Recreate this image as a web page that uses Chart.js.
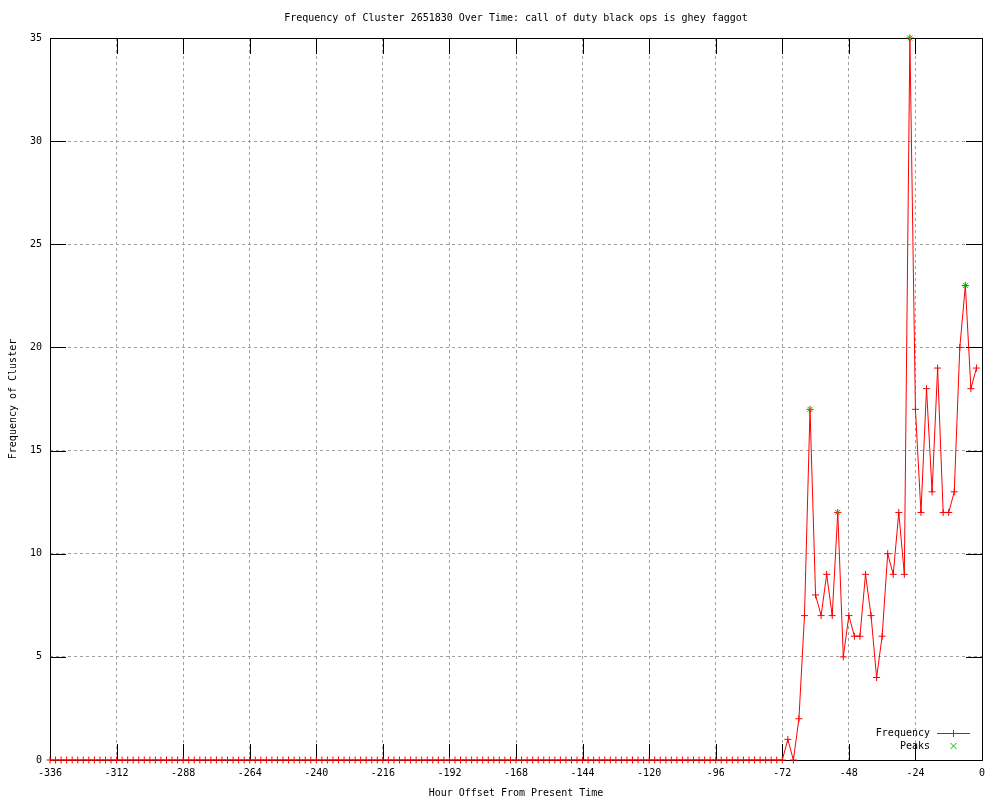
<!DOCTYPE html>
<html>
<head>
<meta charset="utf-8">
<script src="https://cdn.jsdelivr.net/npm/chart.js@4.4.0/dist/chart.umd.min.js"></script>
<style>
  html, body { margin: 0; padding: 0; background: #fff; }
  canvas { display: block; }
</style>
</head>
<body>
<canvas id="grafico" width="1000" height="800" style="width:1000px;height:800px"></canvas>
<script>
// ore (offset dal presente), un punto ogni 2 ore
const ore = [
  -336, -334, -332, -330, -328, -326, -324, -322, -320, -318, -316, -314,
  -312, -310, -308, -306, -304, -302, -300, -298, -296, -294, -292, -290,
  -288, -286, -284, -282, -280, -278, -276, -274, -272, -270, -268, -266,
  -264, -262, -260, -258, -256, -254, -252, -250, -248, -246, -244, -242,
  -240, -238, -236, -234, -232, -230, -228, -226, -224, -222, -220, -218,
  -216, -214, -212, -210, -208, -206, -204, -202, -200, -198, -196, -194,
  -192, -190, -188, -186, -184, -182, -180, -178, -176, -174, -172, -170,
  -168, -166, -164, -162, -160, -158, -156, -154, -152, -150, -148, -146,
  -144, -142, -140, -138, -136, -134, -132, -130, -128, -126, -124, -122,
  -120, -118, -116, -114, -112, -110, -108, -106, -104, -102, -100, -98,
  -96, -94, -92, -90, -88, -86, -84, -82, -80, -78, -76, -74,
  -72, -70, -68, -66, -64, -62, -60, -58, -56, -54, -52, -50,
  -48, -46, -44, -42, -40, -38, -36, -34, -32, -30, -28, -26,
  -24, -22, -20, -18, -16, -14, -12, -10, -8, -6, -4, -2
];
const frequenza = [
  0, 0, 0, 0, 0, 0, 0, 0, 0, 0, 0, 0,
  0, 0, 0, 0, 0, 0, 0, 0, 0, 0, 0, 0,
  0, 0, 0, 0, 0, 0, 0, 0, 0, 0, 0, 0,
  0, 0, 0, 0, 0, 0, 0, 0, 0, 0, 0, 0,
  0, 0, 0, 0, 0, 0, 0, 0, 0, 0, 0, 0,
  0, 0, 0, 0, 0, 0, 0, 0, 0, 0, 0, 0,
  0, 0, 0, 0, 0, 0, 0, 0, 0, 0, 0, 0,
  0, 0, 0, 0, 0, 0, 0, 0, 0, 0, 0, 0,
  0, 0, 0, 0, 0, 0, 0, 0, 0, 0, 0, 0,
  0, 0, 0, 0, 0, 0, 0, 0, 0, 0, 0, 0,
  0, 0, 0, 0, 0, 0, 0, 0, 0, 0, 0, 0,
  0, 1, 0, 2, 7, 17, 8, 7, 9, 7, 12, 5,
  7, 6, 6, 9, 7, 4, 6, 10, 9, 12, 9, 35,
  17, 12, 18, 13, 19, 12, 12, 13, 20, 23, 18, 19
];
// picchi
const orePicchi = [-62, -52, -26, -6];
const valoriPicchi = [17, 12, 35, 23];

// tick degli assi
const tickX = [-336, -312, -288, -264, -240, -216, -192, -168, -144, -120, -96, -72, -48, -24, 0];
const tickY = [0, 5, 10, 15, 20, 25, 30, 35];

const TITOLO = "Frequency of Cluster 2651830 Over Time: call of duty black ops is ghey faggot";
const TITOLO_X = "Hour Offset From Present Time";
const TITOLO_Y = "Frequency of Cluster";
const FONT = "'DejaVu Sans Mono', monospace";
const ROSSO = '#ff0000';
const VERDE = '#00c000';
const TIC = 16;

Chart.defaults.font.family = FONT;
Chart.defaults.font.size = 10;
Chart.defaults.color = '#000';

// stile gnuplot: sfondo, bordo, tacche, titoli, legenda
const stileGnuplot = {
  id: 'stileGnuplot',
  beforeDraw(chart) {
    const ctx = chart.ctx;
    ctx.save();
    ctx.fillStyle = '#fff';
    ctx.fillRect(0, 0, chart.width, chart.height);
    ctx.restore();
  },
  beforeDatasetsDraw(chart) {
    const ctx = chart.ctx;
    const a = chart.chartArea;
    const sx = chart.scales.x, sy = chart.scales.y;
    ctx.save();
    ctx.strokeStyle = '#000';
    ctx.lineWidth = 1;
    ctx.beginPath();
    tickX.forEach(v => {
      const px = Math.round(sx.getPixelForValue(v)) + 0.5;
      ctx.moveTo(px, a.bottom); ctx.lineTo(px, a.bottom - TIC);
      ctx.moveTo(px, a.top); ctx.lineTo(px, a.top + TIC);
    });
    tickY.forEach(v => {
      const py = Math.round(sy.getPixelForValue(v)) + 0.5;
      ctx.moveTo(a.left, py); ctx.lineTo(a.left + TIC, py);
      ctx.moveTo(a.right, py); ctx.lineTo(a.right - TIC, py);
    });
    ctx.stroke();
    ctx.strokeRect(Math.round(a.left) + 0.5, Math.round(a.top) + 0.5,
      Math.round(a.right - a.left), Math.round(a.bottom - a.top));
    ctx.restore();
  },
  afterDraw(chart) {
    const ctx = chart.ctx;
    const a = chart.chartArea;
    const cx = (a.left + a.right) / 2;
    ctx.save();
    ctx.fillStyle = '#000';
    ctx.font = '10px ' + FONT;
    ctx.textBaseline = 'middle';
    ctx.textAlign = 'center';
    ctx.fillText(TITOLO, cx, 18);
    ctx.fillText(TITOLO_X, cx, 793);
    ctx.save();
    ctx.translate(13, (a.top + a.bottom) / 2);
    ctx.rotate(-Math.PI / 2);
    ctx.fillText(TITOLO_Y, 0, 0);
    ctx.restore();

    // legenda
    ctx.textAlign = 'right';
    ctx.fillText('Frequency', 930, 733);
    ctx.fillText('Peaks', 930, 746);
    ctx.strokeStyle = ROSSO;
    ctx.lineWidth = 1;
    ctx.beginPath();
    ctx.moveTo(937, 733.5); ctx.lineTo(970, 733.5);
    ctx.moveTo(953.5, 730); ctx.lineTo(953.5, 737);
    ctx.stroke();
    ctx.strokeStyle = VERDE;
    ctx.beginPath();
    ctx.moveTo(950.5, 743); ctx.lineTo(956.5, 749);
    ctx.moveTo(956.5, 743); ctx.lineTo(950.5, 749);
    ctx.stroke();
    ctx.restore();
  }
};

const ctx = document.getElementById('grafico').getContext('2d');
new Chart(ctx, {
  type: 'line',
  data: {
    datasets: [
      {
        label: 'Peaks',
        data: orePicchi.map((h, i) => ({ x: h, y: valoriPicchi[i] })),
        showLine: false,
        pointStyle: 'crossRot',
        pointRadius: 3.5,
        pointBorderColor: VERDE,
        pointBorderWidth: 1,
        clip: false,
        order: 0
      },
      {
        label: 'Frequency',
        data: ore.map((h, i) => ({ x: h, y: frequenza[i] })),
        borderColor: ROSSO,
        borderWidth: 1,
        tension: 0,
        pointStyle: 'cross',
        pointRadius: 3.5,
        pointBorderColor: ROSSO,
        pointBorderWidth: 1,
        clip: false,
        order: 1
      }
    ]
  },
  options: {
    responsive: false,
    animation: false,
    devicePixelRatio: 1,
    layout: { padding: { top: 38, right: 18, left: 0, bottom: 0 } },
    plugins: {
      legend: { display: false },
      title: { display: false },
      tooltip: { enabled: false }
    },
    scales: {
      x: {
        type: 'linear',
        min: -336,
        max: 0,
        afterBuildTicks: s => { s.ticks = tickX.map(v => ({ value: v })); },
        afterFit: s => { s.height = 40; },
        grid: { color: '#a0a0a0', drawTicks: false },
        border: { display: false, dash: [3, 3] },
        ticks: { padding: 7, maxRotation: 0, autoSkip: false, font: { size: 10 } }
      },
      y: {
        type: 'linear',
        min: 0,
        max: 35,
        afterBuildTicks: s => { s.ticks = tickY.map(v => ({ value: v })); },
        afterFit: s => { s.width = 50; },
        grid: { color: '#a0a0a0', drawTicks: false },
        border: { display: false, dash: [3, 3] },
        ticks: { padding: 8, font: { size: 10 } }
      }
    }
  },
  plugins: [stileGnuplot]
});
</script>
</body>
</html>
